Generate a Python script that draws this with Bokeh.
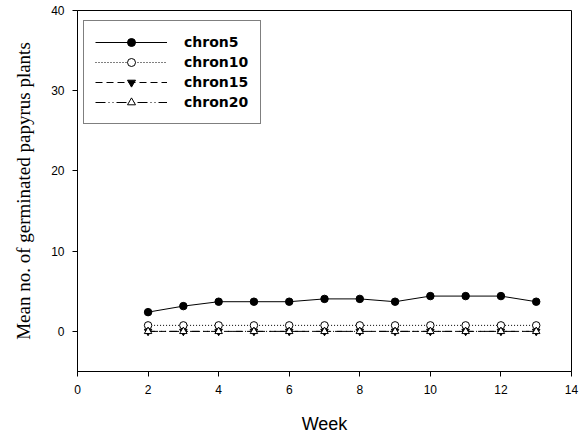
from bokeh.plotting import figure
from bokeh.models import Legend, LegendItem, Range1d, FixedTicker
from bokeh.embed import file_html
from bokeh.resources import INLINE

weeks = [2, 3, 4, 5, 6, 7, 8, 9, 10, 11, 12, 13]
chron5 = [2.4, 3.15, 3.7, 3.7, 3.7, 4.05, 4.05, 3.7, 4.4, 4.4, 4.4, 3.7]
chron10 = [0.75] * 12
chron15 = [0.0] * 12
chron20 = [0.0] * 12

x_ticks = [0, 2, 4, 6, 8, 10, 12, 14]
y_ticks = [0, 10, 20, 30, 40]

p = figure(width=583, height=437, output_backend="svg", toolbar_location=None,
           x_range=Range1d(0, 14), y_range=Range1d(-5, 40),
           min_border_left=77, min_border_right=12, min_border_top=10, min_border_bottom=66)
p.background_fill_color = "white"
p.border_fill_color = "white"
p.outline_line_color = "black"
p.outline_line_width = 1
p.grid.visible = False

for ax in (p.xaxis[0], p.yaxis[0]):
    ax.axis_line_color = "black"
    ax.major_tick_out = 5
    ax.major_tick_in = 0
    ax.minor_tick_line_color = None
    ax.major_label_text_font = "Liberation Sans"
    ax.major_label_text_font_size = "12px"
    ax.major_label_text_color = "black"
    ax.major_label_standoff = 8
    ax.axis_label_text_color = "black"

p.xaxis.ticker = FixedTicker(ticks=x_ticks)
p.yaxis.ticker = FixedTicker(ticks=y_ticks)
p.xaxis.axis_label = "Week"
p.xaxis.axis_label_text_font = "Liberation Sans"
p.xaxis.axis_label_text_font_style = "normal"
p.xaxis.axis_label_text_font_size = "18px"
p.xaxis.axis_label_standoff = 17
p.yaxis.axis_label = "Mean no. of germinated papyrus plants"
p.yaxis.axis_label_text_font = "Liberation Serif"
p.yaxis.axis_label_text_font_style = "normal"
p.yaxis.axis_label_text_font_size = "19px"
p.yaxis.axis_label_standoff = 14

series = [
    ("chron5", chron5, "solid", "circle", "black"),
    ("chron10", chron10, "1 2", "circle", "white"),
    ("chron15", chron15, "7 4", "inverted_triangle", "black"),
    ("chron20", chron20, "10 3 1 3 1 3", "triangle", "white"),
]
items = []
for name, ys, dash, marker, fill in series:
    ln = p.line(weeks, ys, line_color="black", line_width=1, line_dash=dash)
    sc = p.scatter(weeks, ys, marker=marker, size=7.5, line_color="black",
                   fill_color=fill, line_width=1)
    items.append(LegendItem(label=name, renderers=[ln, sc]))

legend = Legend(items=items, location=(6, 247))
legend.border_line_color = "black"
legend.border_line_width = 1
legend.padding = 11
legend.spacing = 0
legend.margin = 0
legend.label_height = 20
legend.label_width = 65
legend.glyph_height = 20
legend.glyph_width = 72
legend.label_standoff = 17
legend.label_text_font = "DejaVu Sans"
legend.label_text_font_style = "bold"
legend.label_text_font_size = "14px"
legend.label_text_color = "black"
legend.background_fill_alpha = 1
p.add_layout(legend, "center")

open("out.html", "w").write(file_html(p, INLINE))
